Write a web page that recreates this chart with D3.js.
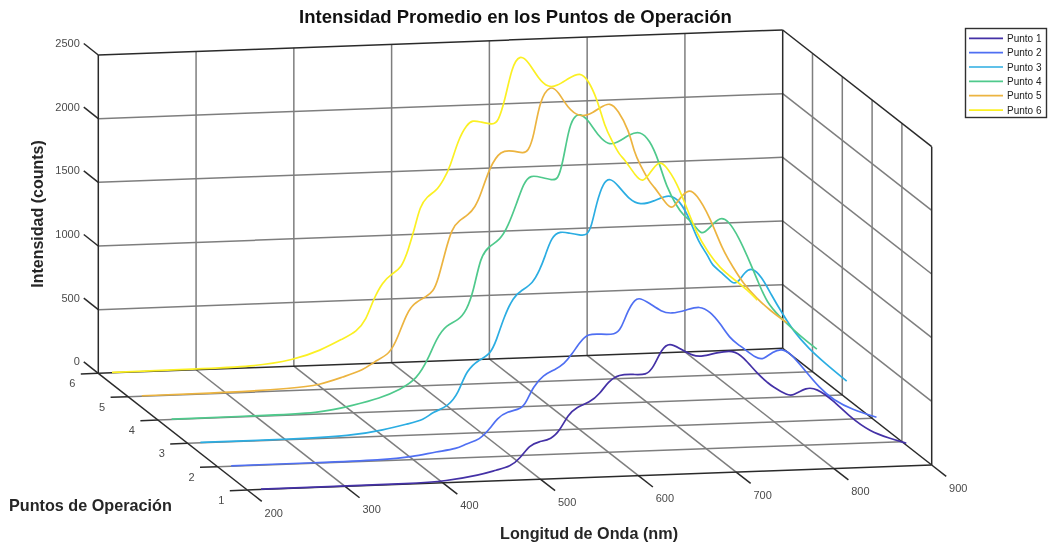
<!DOCTYPE html>
<html><head><meta charset="utf-8">
<script src="https://cdn.jsdelivr.net/npm/d3@7"></script>
<style>html,body{margin:0;padding:0;background:#fff}svg{display:block;filter:blur(0.35px)}text{font-family:"Liberation Sans",Arial,sans-serif}</style>
</head><body><svg id="c" width="1049" height="548"></svg>
<script>
const xTicks=[200,300,400,500,600,700,800,900];
const yTicks=[1,2,3,4,5,6];
const zTicks=[0,500,1000,1500,2000,2500];
const names=["Punto 1","Punto 2","Punto 3","Punto 4","Punto 5","Punto 6"];
const colors=["#4431a6","#4f6ff2","#2bade2","#4fc98c","#ecb440","#fbf023"];
const wl1=[214,298,366,404,438,455,469,479,489,498,511,520,528,537,550,561,569,580,595,608,615,624,632,642,656,665,680,697,707,723,733,736,753,758,772,782,799,816,837,857,874];
const in1=[3,3,3,13,51,86,108,170,273,296,311,382,497,560,587,658,747,802,798,788,839,994,1035,989,924,917,944,960,905,756,689,668,585,584,646,635,539,403,280,222,178];
const wl2=[214,301,370,400,424,445,455,468,479,486,496,511,516,523,533,545,555,562,571,579,591,607,613,620,627,632,642,654,664,680,693,704,714,724,733,738,751,758,768,777,786,799,816,830,850,874];
const in2=[3,3,5,23,55,71,112,134,223,300,349,366,422,538,627,663,712,776,878,938,932,920,971,1113,1195,1205,1159,1090,1069,1096,1125,1076,982,862,807,779,697,682,744,765,727,605,443,347,263,199];
const wl3=[213,301,369,400,427,441,451,466,477,485,499,509,516,523,533,542,553,560,565,572,581,591,601,608,613,618,625,632,640,652,663,676,693,704,714,722,733,736,746,757,762,770,777,787,797,808,820,835,852,874];
const in3=[3,3,12,49,93,115,177,213,315,496,578,607,723,892,1058,1108,1158,1260,1354,1518,1560,1539,1524,1516,1585,1766,1930,1965,1905,1784,1742,1764,1825,1756,1610,1437,1316,1250,1190,1100,1095,1188,1220,1146,997,851,703,568,445,300];
const wl4=[214,301,366,400,427,448,465,476,485,495,507,516,523,530,538,550,558,567,574,581,593,603,609,614,620,625,632,640,651,661,669,683,693,703,712,720,731,737,748,756,765,775,783,794,806,813,823,836,850,864,874];
const in4=[3,5,6,60,107,170,250,394,562,664,693,775,928,1190,1266,1316,1418,1599,1755,1820,1793,1772,1770,1900,2160,2260,2290,2233,2099,2032,2041,2111,2132,2058,1898,1686,1527,1459,1392,1285,1360,1435,1407,1273,1061,930,742,633,525,429,367];
const wl5=[214,301,369,396,420,441,451,468,476,485,492,505,512,517,524,531,539,548,555,560,570,581,594,604,609,615,621,632,640,650,661,672,683,693,701,712,718,723,734,737,751,757,764,773,781,795,808,819,829,843,856,874];
const in5=[3,3,18,36,94,141,203,259,393,574,651,699,737,827,1037,1229,1292,1329,1392,1470,1702,1830,1820,1798,1808,1925,2212,2330,2271,2138,2070,2079,2137,2175,2110,1953,1766,1685,1525,1511,1350,1315,1399,1470,1433,1246,981,840,713,591,496,390];
const wl6=[214,301,358,400,427,451,464,474,481,491,500,510,517,524,529,536,546,553,560,568,577,583,590,604,609,616,623,631,640,650,660,669,681,693,701,710,718,725,734,737,750,757,763,773,780,792,802,812,823,836,850,864,874];
const in6=[3,5,8,49,114,205,253,342,497,638,696,737,880,1060,1217,1294,1337,1419,1522,1730,1850,1880,1867,1837,1861,2030,2289,2385,2324,2190,2115,2124,2182,2228,2163,2016,1792,1685,1553,1546,1389,1345,1400,1510,1473,1327,1127,928,781,646,556,468,386];
const wls=[wl1,wl2,wl3,wl4,wl5,wl6], ints=[in1,in2,in3,in4,in5,in6];

const sx=d3.scaleLinear().domain([200,900]).range([0,1]);
const sy=d3.scaleLinear().domain([6,1]).range([0,1]);
const sz=d3.scaleLinear().domain([0,2500]).range([0,1]);
const P=(x,y,z)=>[98.3+684.4*sx(x)+149*sy(y), 373.3-25*sx(x)+116.7*sy(y)-318.3*sz(z)];
const svg=d3.select("#c");
const seg=(g,a,b,col,w)=>g.append("line").attr("x1",a[0]).attr("y1",a[1]).attr("x2",b[0]).attr("y2",b[1]).attr("stroke",col).attr("stroke-width",w);

const grid=svg.append("g");
const G="#7e7e7e",GW=1.5;
xTicks.slice(1,-1).forEach(x=>{
  seg(grid,P(x,6,0),P(x,1,0),G,GW);
  seg(grid,P(x,6,0),P(x,6,2500),G,GW);
});
yTicks.slice(1,-1).forEach(y=>{
  seg(grid,P(200,y,0),P(900,y,0),G,GW);
  seg(grid,P(900,y,0),P(900,y,2500),G,GW);
});
zTicks.slice(1,-1).forEach(z=>{
  seg(grid,P(200,6,z),P(900,6,z),G,GW);
  seg(grid,P(900,6,z),P(900,1,z),G,GW);
});

const box=svg.append("g");
const B="#2a2a2a",BW=1.5;
[[[200,6,0],[900,6,0]],[[200,1,0],[900,1,0]],[[200,6,0],[200,1,0]],[[900,6,0],[900,1,0]],
 [[200,6,0],[200,6,2500]],[[900,6,0],[900,6,2500]],[[900,1,0],[900,1,2500]],
 [[200,6,2500],[900,6,2500]],[[900,6,2500],[900,1,2500]]].forEach(e=>seg(box,P(...e[0]),P(...e[1]),B,BW));

const TC="#4a4a4a";
xTicks.forEach(x=>{const a=P(x,1,0);seg(box,a,[a[0]+14.5,a[1]+11.3],B,BW);
  box.append("text").attr("x",a[0]+26.5).attr("y",a[1]+26.5).attr("text-anchor","middle").attr("font-size",11).attr("fill",TC).text(x);});
yTicks.forEach(y=>{const a=P(200,y,0);seg(box,a,[a[0]-17.5,a[1]+0.65],B,BW);
  box.append("text").attr("x",a[0]-26).attr("y",a[1]+14).attr("text-anchor","middle").attr("font-size",11).attr("fill",TC).text(y);});
zTicks.forEach(z=>{const a=P(200,6,z);seg(box,a,[a[0]-14.5,a[1]-11.5],B,BW);
  box.append("text").attr("x",a[0]-18.5).attr("y",a[1]-8).attr("text-anchor","end").attr("font-size",11).attr("fill",TC).text(d3.format("d")(z));});

const line=d3.line().x(d=>d[0]).y(d=>d[1]).curve(d3.curveBasis);
const lines=svg.append("g");
yTicks.forEach((y,i)=>{
  const pts=wls[i].map((w,j)=>P(w,y,ints[i][j]));
  lines.append("path").attr("d",line(pts)).attr("fill","none").attr("stroke",colors[i]).attr("stroke-width",1.7);
});

svg.append("text").attr("x",515.5).attr("y",22.5).attr("text-anchor","middle").attr("font-size",18.5).attr("font-weight","bold").attr("fill","#111").text("Intensidad Promedio en los Puntos de Operación");
svg.append("text").attr("transform","translate(43,214) rotate(-90)").attr("text-anchor","middle").attr("font-size",16).attr("font-weight","bold").attr("fill","#262626").text("Intensidad (counts)");
svg.append("text").attr("x",9).attr("y",510.5).attr("font-size",16.2).attr("font-weight","bold").attr("fill","#262626").text("Puntos de Operación");
svg.append("text").attr("x",500).attr("y",539).attr("font-size",16.2).attr("font-weight","bold").attr("fill","#262626").text("Longitud de Onda (nm)");

const leg=svg.append("g");
leg.append("rect").attr("x",965.5).attr("y",28.5).attr("width",81).attr("height",89).attr("fill","#fff").attr("stroke","#303030").attr("stroke-width",1.4);
names.forEach((n,i)=>{
  const yy=38.3+i*14.35;
  seg(leg,[969,yy],[1003,yy],colors[i],1.7);
  leg.append("text").attr("x",1007).attr("y",yy+3.5).attr("font-size",10).attr("fill","#222").text(n);
});
</script></body></html>
